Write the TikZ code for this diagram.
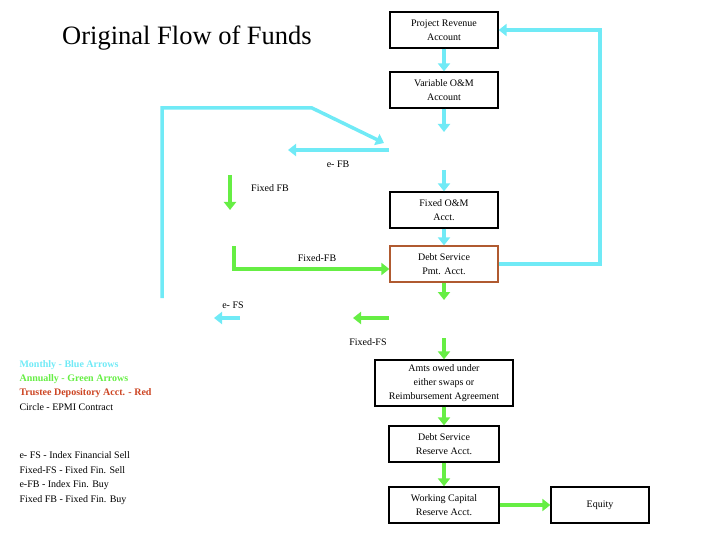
\documentclass[tikz,border=0pt]{standalone}
\usepackage{fontspec}
\setmainfont{Liberation Serif}
\usetikzlibrary{arrows.meta}
\definecolor{cy}{HTML}{70EAF6}
\definecolor{gr}{HTML}{66EE44}
\definecolor{rd}{HTML}{CC4422}
\definecolor{bx}{HTML}{B05A30}
\begin{document}
\begin{tikzpicture}[x=1pt,y=-1pt,
 box/.style={draw,line width=1.3pt,align=center,font=\fontsize{10}{14}\selectfont,inner sep=0pt},
 lab/.style={font=\fontsize{10}{12}\selectfont},
 ca/.style={draw=cy,line width=3.5pt,-{Triangle[length=8pt,width=12pt]}},
 ga/.style={draw=gr,line width=3.5pt,-{Triangle[length=8pt,width=12pt]}},
 leg/.style={anchor=west,font=\fontsize{10}{12}\selectfont}]
\useasboundingbox (0,0) rectangle (720,540);
\node[font=\fontsize{26.5}{30}\selectfont] (title) at (187,38) {Original Flow of Funds};
\node[box,minimum width=108pt,minimum height=36pt] (pr) at (444,30) {Project Revenue\\Account};
\node[box,minimum width=108pt,minimum height=36pt] (vom) at (444,90) {Variable O\&M\\Account};
\node[box,minimum width=108pt,minimum height=36pt] (fom) at (444,210) {Fixed O\&M\\Acct.};
\node[box,draw=bx,minimum width=108pt,minimum height=36pt] (dsp) at (444,264) {Debt Service\\Pmt. Acct.};
\node[box,minimum width=138pt,minimum height=46pt] (amt) at (444,383) {Amts owed under\\either swaps or\\Reimbursement Agreement};
\node[box,minimum width=110pt,minimum height=36pt] (dsr) at (444,444) {Debt Service\\Reserve Acct.};
\node[box,minimum width=110pt,minimum height=36pt] (wc) at (444,505) {Working Capital\\Reserve Acct.};
\node[box,minimum width=98pt,minimum height=36pt] (eq) at (600,505) {Equity};
\coordinate (v1) at (444,132);
\coordinate (f0) at (444,170);
\coordinate (d1) at (444,300);
\coordinate (a0) at (444,338);
% cyan
\draw[ca] (pr) -- (vom);
\draw[ca] (vom) -- (v1);
\draw[ca] (f0) -- (fom);
\draw[ca] (fom) -- (dsp);
\draw[ca] (dsp.east) -- (600,264) -- (600,30) -- (pr.east);
\coordinate (l0) at (162,298);
\coordinate (l1) at (384,143);
\draw[ca] (l0) -- (162,108) -- (312,108) -- (l1);
\coordinate (e0) at (389,150); \coordinate (e1) at (288,150);
\draw[ca] (e0) -- (e1);
\coordinate (s0) at (240,318); \coordinate (s1) at (214,318);
\draw[ca] (s0) -- (s1);
% green
\coordinate (g0) at (230,175); \coordinate (g1) at (230,210);
\draw[ga] (g0) -- (g1);
\coordinate (h0) at (234,246);
\draw[ga] (h0) -- (234,269) -- (dsp.west|-0,269);
\draw[ga] (dsp) -- (d1);
\coordinate (k0) at (389,318); \coordinate (k1) at (353,318);
\draw[ga] (k0) -- (k1);
\draw[ga] (a0) -- (amt);
\draw[ga] (amt) -- (dsr);
\draw[ga] (dsr) -- (wc);
\draw[ga] (wc) -- (eq);
% labels
\node[lab] (lefb) at (338,164) {e- FB};
\node[lab] (lffb) at (270,188) {Fixed FB};
\node[lab] (lfxfb) at (317,258) {Fixed-FB};
\node[lab] (lefs) at (233,305) {e- FS};
\node[lab] (lfxfs) at (368,342) {Fixed-FS};
% legend
\node[leg,text=cy,font=\bfseries\fontsize{10}{12}\selectfont] (m1) at (16,365) {Monthly - Blue Arrows};
\node[leg,text=gr,font=\bfseries\fontsize{10}{12}\selectfont] (m2) at (16,379) {Annually - Green Arrows};
\node[leg,text=rd,font=\bfseries\fontsize{10}{12}\selectfont] (m3) at (16,393) {Trustee Depository Acct. - Red};
\node[leg] (m4) at (16,407) {Circle - EPMI Contract};
\node[leg] (n1) at (16,455) {e- FS - Index Financial Sell};
\node[leg] (n2) at (16,470) {Fixed-FS - Fixed Fin. Sell};
\node[leg] (n3) at (16,485) {e-FB - Index Fin. Buy};
\node[leg] (n4) at (16,500) {Fixed FB - Fixed Fin. Buy};
\end{tikzpicture}
\end{document}
